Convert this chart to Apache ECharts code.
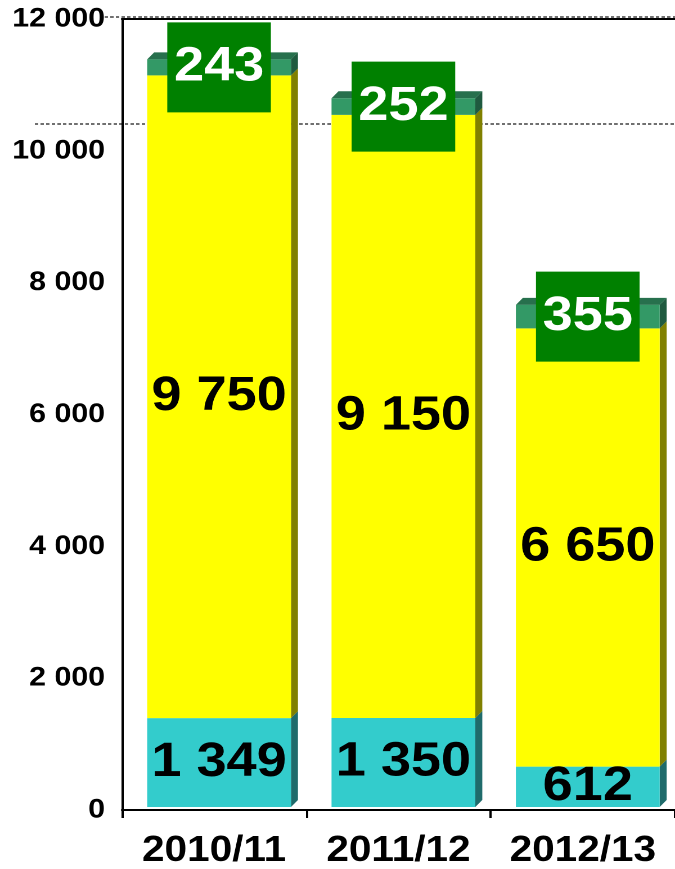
<!DOCTYPE html>
<html>
<head>
<meta charset="utf-8">
<script src="https://cdn.jsdelivr.net/npm/echarts@6/dist/echarts.min.js"></script>
<style>
  html, body { margin: 0; padding: 0; background: #ffffff; overflow: hidden; }
  /* The chart is laid out 600px wide and widened to the 675px page */
  #chart { width: 600px; height: 869px; transform: scaleX(1.125); transform-origin: 0 0; }
</style>
</head>
<body>
<div id="chart"></div>
<script>
// Season categories and stacked segment values (bottom to top)
const categories = ['2010/11', '2011/12', '2012/13'];
const tealValues = [1349, 1350, 612];
const yellowValues = [9750, 9150, 6650];
const greenValues = [243, 252, 355];
const yTicks = [0, 2000, 4000, 6000, 8000, 10000, 12000];

const FONT = '"Liberation Sans", Arial, sans-serif';

function fmt(v) {
  return String(v).replace(/\B(?=(\d{3})+(?!\d))/g, ' ');
}

// Pseudo-3D look: front face nudged, side face and top face offset by depth
const DEPTH_X = 6.2, DEPTH_Y = 7, SHIFT_X = 4.4, SHIFT_Y = -3, BAR_RATIO = 0.78;

function makeRender(colors, isTop, labelStyle) {
  return function (params, api) {
    const idx = api.value(0);
    const base = api.value(1);
    const val = api.value(2);
    const p0 = api.coord([idx, base]);
    const p1 = api.coord([idx, base + val]);
    const bw = api.size([1, 0])[0] * BAR_RATIO;
    const xl = p0[0] - bw / 2 + SHIFT_X;
    const xr = xl + bw;
    const yb = p0[1] + SHIFT_Y;
    const yt = p1[1] + SHIFT_Y;
    const children = [
      {
        type: 'polygon',
        shape: { points: [[xr, yt], [xr + DEPTH_X, yt - DEPTH_Y], [xr + DEPTH_X, yb - DEPTH_Y], [xr, yb]] },
        style: { fill: colors.side }
      }
    ];
    if (isTop) {
      children.push({
        type: 'polygon',
        shape: { points: [[xl, yt], [xl + DEPTH_X, yt - DEPTH_Y], [xr + DEPTH_X, yt - DEPTH_Y], [xr, yt]] },
        style: { fill: colors.top }
      });
    }
    children.push({
      type: 'rect',
      shape: { x: xl, y: yt, width: bw, height: yb - yt },
      style: { fill: colors.front },
      textContent: {
        style: Object.assign({ text: fmt(val), font: 'bold 48px ' + FONT }, labelStyle)
      },
      textConfig: { position: 'inside' },
      z2: 10
    });
    return { type: 'group', children: children };
  };
}

function stackData(values, bases) {
  return values.map((v, i) => [i, bases[i], v]);
}

const zeroBase = tealValues.map(() => 0);
const yellowBase = tealValues.slice();
const greenBase = tealValues.map((v, i) => v + yellowValues[i]);

const chart = echarts.init(document.getElementById('chart'), null, { devicePixelRatio: 2 });
chart.setOption({
  animation: false,
  backgroundColor: '#ffffff',
  grid: { left: 108.4, right: 0, top: 19, bottom: 58 },
  graphic: [
    {
      type: 'line', z: 0,
      shape: { x1: 93, y1: 17, x2: 600, y2: 17 },
      style: { stroke: '#707070', lineWidth: 2, lineDash: [3, 2] }
    },
    {
      type: 'line', z: 0,
      shape: { x1: 31, y1: 124, x2: 600, y2: 124 },
      style: { stroke: '#707070', lineWidth: 2, lineDash: [3, 2] }
    }
  ],
  xAxis: [
    {
      type: 'category',
      data: categories,
      boundaryGap: true,
      axisLine: { lineStyle: { color: '#000', width: 2 } },
      axisTick: { show: true, length: 8, lineStyle: { color: '#000', width: 2 } },
      axisLabel: { interval: 0, color: '#000', fontFamily: FONT, fontWeight: 'bold', fontSize: 36, margin: 23 }
    },
    {
      type: 'category',
      position: 'top',
      data: categories,
      axisLine: { lineStyle: { color: '#000', width: 2 } },
      axisTick: { show: false },
      axisLabel: { show: false }
    }
  ],
  yAxis: {
    type: 'value',
    min: 0,
    max: 12000,
    interval: 2000,
    axisLine: { show: true, lineStyle: { color: '#000', width: 2 } },
    axisTick: { show: false },
    splitLine: { show: false },
    axisLabel: {
      color: '#000', fontFamily: FONT, fontWeight: 'bold', fontSize: 27, margin: 15,
      formatter: v => (yTicks.indexOf(v) >= 0 ? fmt(v) : '')
    }
  },
  series: [
    {
      type: 'custom',
      renderItem: makeRender({ front: '#33CCCC', side: '#1F6B6B' }, false, { fill: '#000' }),
      data: stackData(tealValues, zeroBase)
    },
    {
      type: 'custom',
      renderItem: makeRender({ front: '#FFFF00', side: '#808000' }, false, { fill: '#000' }),
      data: stackData(yellowValues, yellowBase)
    },
    {
      type: 'custom',
      renderItem: makeRender({ front: '#339966', side: '#1F5A3F', top: '#27704D' }, true,
        { fill: '#fff', backgroundColor: '#008000', padding: [21, 6, 21, 6] }),
      data: stackData(greenValues, greenBase)
    }
  ]
});
</script>
</body>
</html>
